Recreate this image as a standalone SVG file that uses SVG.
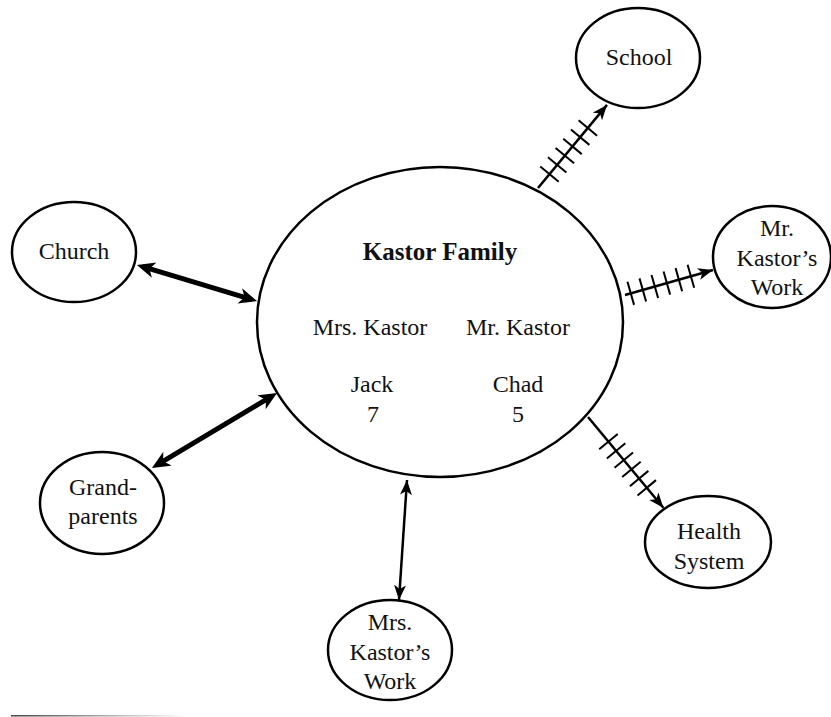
<svg xmlns="http://www.w3.org/2000/svg" width="831" height="717" viewBox="0 0 831 717">
<style>
.node ellipse{fill:#fff;stroke:#000;stroke-width:2.5}
.t{font-family:"Liberation Serif","Times New Roman",serif;font-size:24px;fill:#111;text-anchor:middle}
.b{font-weight:bold;font-size:25px}
.thin{stroke:#000;stroke-width:2.5;fill:none}
.thick{stroke:#000;stroke-width:5;fill:none}
.tick{stroke:#000;stroke-width:2}
</style>
<defs>
<marker id="ah" markerUnits="userSpaceOnUse" markerWidth="18" markerHeight="14" refX="15" refY="6" orient="auto-start-reverse">
<path d="M0,0 L15,6 L0,12 L4,6 z" fill="#000"/>
</marker>
<marker id="ahb" markerUnits="userSpaceOnUse" markerWidth="20" markerHeight="18" refX="12" refY="8" orient="auto-start-reverse">
<path d="M0,0 L18,8 L0,16 L5,8 z" fill="#000"/>
</marker>
<linearGradient id="fade" x1="0" y1="0" x2="1" y2="0">
<stop offset="0" stop-color="#444"/>
<stop offset="1" stop-color="#fff"/>
</linearGradient>
</defs>

<g id="connectors">
<!-- School -->
<g transform="translate(538,188) rotate(-50.3)">
<line class="thin" x1="0" y1="0" x2="108" y2="0" marker-end="url(#ah)"/>
<g class="tick">
<line x1="18" y1="-12" x2="18" y2="12"/><line x1="30" y1="-12" x2="30" y2="12"/><line x1="42" y1="-12" x2="42" y2="12"/>
<line x1="54" y1="-12" x2="54" y2="12"/><line x1="66" y1="-12" x2="66" y2="12"/><line x1="78" y1="-12" x2="78" y2="12"/>
</g>
</g>
<!-- Mr. Kastor's Work -->
<g transform="translate(625,295) rotate(-15.9)">
<line class="thin" x1="0" y1="0" x2="91.5" y2="0" marker-end="url(#ah)"/>
<g class="tick">
<line x1="6" y1="-12" x2="6" y2="12"/><line x1="18.5" y1="-12" x2="18.5" y2="12"/><line x1="31" y1="-12" x2="31" y2="12"/>
<line x1="43.5" y1="-12" x2="43.5" y2="12"/><line x1="56" y1="-12" x2="56" y2="12"/><line x1="68.5" y1="-12" x2="68.5" y2="12"/>
</g>
</g>
<!-- Health System -->
<g transform="translate(588,417) rotate(50.3)">
<line class="thin" x1="0" y1="0" x2="118" y2="0" marker-end="url(#ah)"/>
<g class="tick">
<line x1="32" y1="-12" x2="32" y2="12"/><line x1="44" y1="-12" x2="44" y2="12"/><line x1="56" y1="-12" x2="56" y2="12"/>
<line x1="68" y1="-12" x2="68" y2="12"/><line x1="80" y1="-12" x2="80" y2="12"/><line x1="92" y1="-12" x2="92" y2="12"/>
</g>
</g>
<!-- Church -->
<line class="thick" x1="142.7" y1="266.7" x2="251.3" y2="299.3" marker-start="url(#ahb)" marker-end="url(#ahb)"/>
<!-- Grandparents -->
<line class="thick" x1="157.1" y1="464.9" x2="271.9" y2="396.1" marker-start="url(#ahb)" marker-end="url(#ahb)"/>
<!-- Mrs. Kastor's Work -->
<line class="thin" x1="407" y1="480" x2="399" y2="600" marker-start="url(#ah)" marker-end="url(#ah)"/>
</g>

<g id="family" class="node">
<ellipse cx="440" cy="322" rx="183" ry="155"/>
<text class="t b" x="440" y="260">Kastor Family</text>
<text class="t" x="370" y="335">Mrs. Kastor</text>
<text class="t" x="518" y="335">Mr. Kastor</text>
<text class="t" x="372" y="392">Jack</text>
<text class="t" x="373" y="422">7</text>
<text class="t" x="518" y="392">Chad</text>
<text class="t" x="518" y="422">5</text>
</g>

<g id="school" class="node">
<ellipse cx="638" cy="58" rx="62" ry="50"/>
<text class="t" x="639" y="65">School</text>
</g>

<g id="mr-work" class="node">
<ellipse cx="772" cy="257" rx="59" ry="51"/>
<text class="t" x="777" y="236">Mr.</text>
<text class="t" x="777" y="266">Kastor’s</text>
<text class="t" x="777" y="295">Work</text>
</g>

<g id="health" class="node">
<ellipse cx="708" cy="542" rx="63" ry="46"/>
<text class="t" x="709" y="539">Health</text>
<text class="t" x="709" y="569">System</text>
</g>

<g id="church" class="node">
<ellipse cx="74" cy="252" rx="62" ry="50"/>
<text class="t" x="74" y="259">Church</text>
</g>

<g id="grandparents" class="node">
<ellipse cx="102" cy="503" rx="62" ry="51"/>
<text class="t" x="103" y="495">Grand-</text>
<text class="t" x="103" y="524">parents</text>
</g>

<g id="mrs-work" class="node">
<ellipse cx="390" cy="650" rx="62" ry="50"/>
<text class="t" x="390" y="630">Mrs.</text>
<text class="t" x="390" y="660">Kastor’s</text>
<text class="t" x="390" y="689">Work</text>
</g>

<rect x="11" y="715" width="175" height="1.5" fill="url(#fade)"/>
</svg>
